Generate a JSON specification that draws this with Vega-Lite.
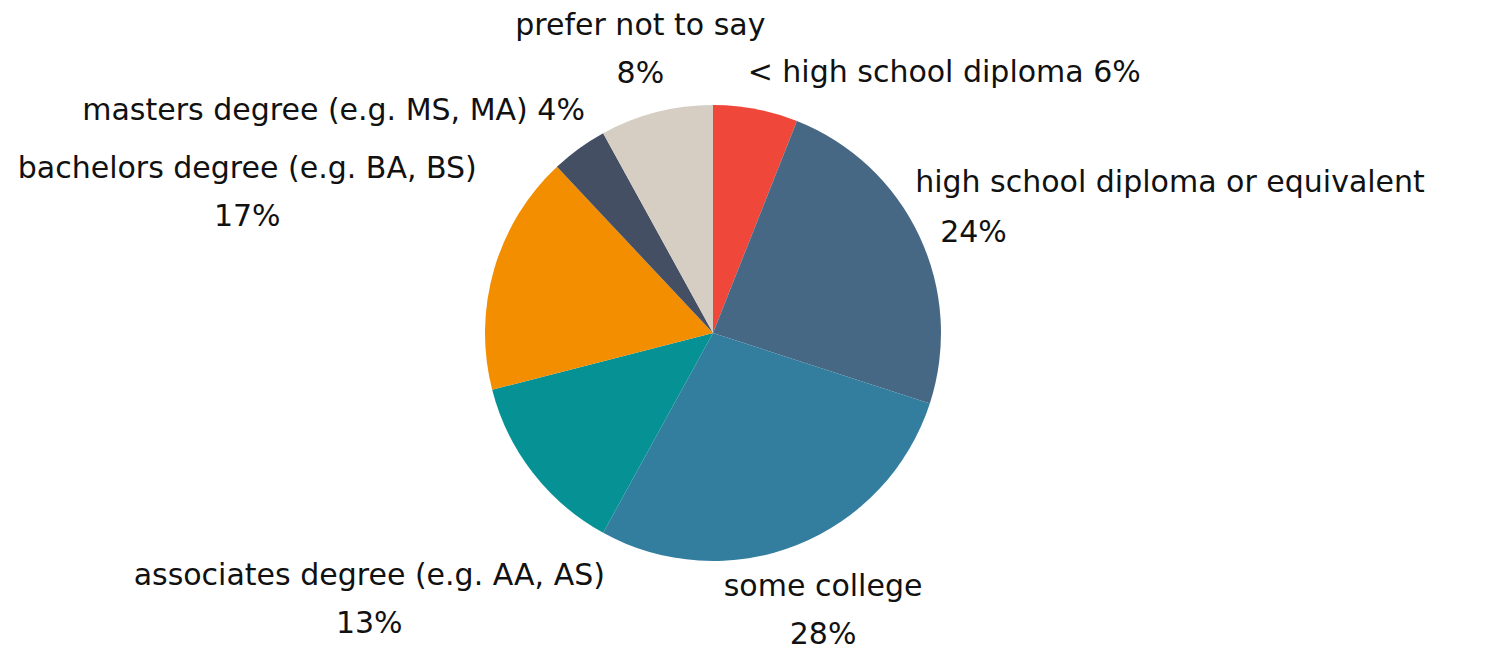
{
  "$schema": "https://vega.github.io/schema/vega-lite/v6.json",
  "autosize": "none",
  "width": 1426,
  "height": 636,
  "padding": {"left": 0, "right": 63, "top": 15, "bottom": 0},
  "background": "white",
  "config": {"view": {"stroke": null}, "text": {"font": "DejaVu Sans", "fontSize": 30, "color": "#111111", "lineHeight": 48, "lineBreak": "\n"}},
  "data": {"values": [
    {"rank": 1, "cat": "< high school diploma", "value": 0.06, "label": "< high school diploma 6%"},
    {"rank": 2, "cat": "high school diploma or equivalent", "value": 0.24, "label": "high school diploma or equivalent\n24%"},
    {"rank": 3, "cat": "some college", "value": 0.28, "label": "some college\n28%"},
    {"rank": 4, "cat": "associates degree (e.g. AA, AS)", "value": 0.13, "label": "associates degree (e.g. AA, AS)\n13%"},
    {"rank": 5, "cat": "bachelors degree (e.g. BA, BS)", "value": 0.17, "label": "bachelors degree (e.g. BA, BS)\n17%"},
    {"rank": 6, "cat": "masters degree (e.g. MS, MA)", "value": 0.04, "label": "masters degree (e.g. MS, MA) 4%"},
    {"rank": 7, "cat": "prefer not to say", "value": 0.08, "label": "prefer not to say\n8%"}
  ]},
  "encoding": {
    "theta": {"field": "value", "type": "quantitative", "stack": true},
    "order": {"field": "rank", "type": "quantitative"},
    "detail": {"field": "cat", "type": "nominal"}
  },
  "layer": [
    {
      "mark": {"type": "arc", "outerRadius": 228},
      "encoding": {
        "color": {"field": "cat", "type": "nominal", "legend": null,
          "scale": {
            "domain": ["< high school diploma", "high school diploma or equivalent", "some college", "associates degree (e.g. AA, AS)", "bachelors degree (e.g. BA, BS)", "masters degree (e.g. MS, MA)", "prefer not to say"],
            "range": ["#EF473A", "#476884", "#337E9F", "#069294", "#F28E00", "#444F63", "#D6CEC3"]
          }}
      }
    },
    {
      "mark": {"type": "text", "radius": 292, "align": "center", "baseline": "middle", "dy": -24},
      "encoding": {"text": {"condition": {"test": "datum.rank === 7", "field": "label"}, "value": ""}}
    },
    {
      "mark": {"type": "text", "radius": 299, "align": "center", "baseline": "middle", "dy": -24},
      "encoding": {"text": {"condition": {"test": "datum.rank === 3", "field": "label"}, "value": ""}}
    },
    {
      "mark": {"type": "text", "radius": 435, "align": "center", "baseline": "middle", "dy": -24},
      "encoding": {"text": {"condition": {"test": "datum.rank === 4", "field": "label"}, "value": ""}}
    },
    {
      "mark": {"type": "text", "radius": 485, "align": "center", "baseline": "middle", "dy": -29},
      "encoding": {"text": {"condition": {"test": "datum.rank === 5", "field": "label"}, "value": ""}}
    },
    {
      "mark": {"type": "text", "radius": 274, "align": "right", "baseline": "middle", "dx": 33},
      "encoding": {"text": {"condition": {"test": "datum.rank === 6", "field": "label"}, "value": ""}}
    },
    {
      "mark": {"type": "text", "radius": 265, "align": "left", "baseline": "middle", "dx": -15},
      "encoding": {"text": {"condition": {"test": "datum.rank === 1", "field": "label"}, "value": ""}}
    },
    {
      "mark": {"type": "text", "radius": 240, "align": "left", "baseline": "middle", "dx": -15, "dy": -48},
      "encoding": {"text": {"condition": {"test": "datum.rank === 2", "field": "cat"}, "value": ""}}
    },
    {
      "mark": {"type": "text", "radius": 240, "align": "left", "baseline": "middle", "dx": 10, "dy": 2},
      "encoding": {"text": {"condition": {"test": "datum.rank === 2", "field": "value", "format": ".0%"}, "value": ""}}
    }
  ]
}
